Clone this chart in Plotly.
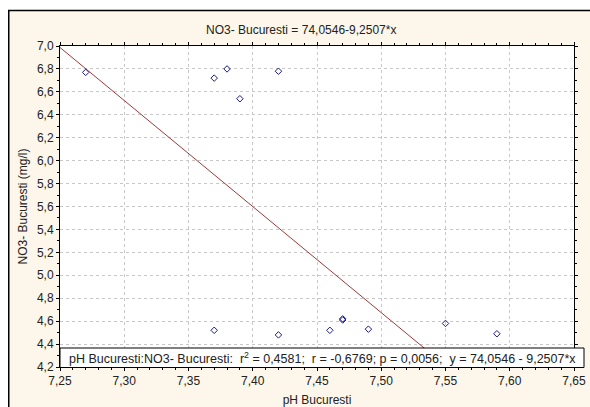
import plotly.graph_objects as go

ph = [7.27, 7.37, 7.38, 7.39, 7.42, 7.37, 7.42, 7.46, 7.47, 7.47, 7.49, 7.55, 7.59]
no3 = [6.77, 6.72, 6.80, 6.54, 6.78, 4.52, 4.48, 4.52, 4.61, 4.62, 4.53, 4.58, 4.49]
intercept = 74.0546
slope = -9.2507
line_x = [7.25, 7.60]
line_y = [intercept + slope * x for x in line_x]

title = "NO3- Bucuresti = 74,0546-9,2507*x"
xlabel = "pH Bucuresti"
ylabel = "NO3- Bucuresti (mg/l)"
stats = "pH Bucuresti:NO3- Bucuresti:  r<sup>2</sup> = 0,4581;  r = -0,6769; p = 0,0056;  y = 74,0546 - 9,2507*x"

W, H = 590, 407
L, R, T, B = 60, 574, 46, 367

def px(x):
    return (x - L) / (R - L)

def py(y):
    return (B - y) / (B - T)

fig = go.Figure()
fig.add_trace(go.Scatter(x=line_x, y=line_y, mode="lines",
                         line=dict(color="#a0393a", width=1), hoverinfo="skip"))
fig.add_trace(go.Scatter(x=ph, y=no3, mode="markers",
                         marker=dict(symbol="diamond-open", size=5, color="#1a1a8c",
                                     line=dict(width=1, color="#1a1a8c"))))

font = dict(family="Liberation Sans, Arial, sans-serif", size=12, color="#222222")

axis_common = dict(showline=True, linecolor="black", linewidth=1, mirror="ticks",
                   ticks="outside", ticklen=3, tickcolor="black", automargin=False,
                   showgrid=True, gridcolor="#c8c8c8", griddash="dot", gridwidth=1,
                   zeroline=False, tickfont=font)

fig.update_xaxes(range=[7.25, 7.65], dtick=0.05, tickformat=".2f",
                 minor=dict(dtick=0.01, ticks="outside", ticklen=2, tickcolor="black", showgrid=False),
                 title=dict(text=xlabel, font=font, standoff=8), **axis_common)
fig.update_yaxes(range=[4.2, 7.0], dtick=0.2, tickformat=".1f",
                 minor=dict(dtick=0.1, ticks="outside", ticklen=2, tickcolor="black", showgrid=False),
                 title=dict(text=ylabel, font=font, standoff=6), **axis_common)

shapes = [
    dict(type="rect", xref="paper", yref="paper", x0=px(-5), x1=px(W + 5), y0=py(-5), y1=py(10),
         fillcolor="white", line=dict(width=0), layer="above"),
    dict(type="rect", xref="paper", yref="paper", x0=px(-5), x1=px(8), y0=py(-5), y1=py(H + 5),
         fillcolor="white", line=dict(width=0), layer="above"),
    dict(type="line", xref="paper", yref="paper", x0=px(8), x1=px(W + 5), y0=py(10.5), y1=py(10.5),
         line=dict(color="black", width=1.5), layer="above"),
    dict(type="line", xref="paper", yref="paper", x0=px(8.75), x1=px(8.75), y0=py(10), y1=py(H + 5),
         line=dict(color="black", width=1.5), layer="above"),
    dict(type="rect", xref="paper", yref="paper", x0=px(60), x1=px(584), y0=py(367.5), y1=py(348),
         fillcolor="white", line=dict(color="black", width=1), layer="above"),
]

annotations = [
    dict(text=title, xref="paper", yref="paper", x=px(301), y=py(30), showarrow=False,
         xanchor="center", yanchor="middle", font=font),
    dict(text=stats, xref="paper", yref="paper", x=px(67), y=py(358), showarrow=False,
         xanchor="left", yanchor="middle", font=dict(family=font["family"], size=12.5, color="#222222")),
]

fig.update_layout(width=W, height=H, autosize=False,
                  margin=dict(l=L, r=W - R, t=T, b=H - B),
                  paper_bgcolor="#fcf7ea", plot_bgcolor="white", showlegend=False,
                  separators=",.", shapes=shapes, annotations=annotations, font=font)

fig.write_html("out.html", config={"displayModeBar": False, "responsive": False},
               post_script="document.body.style.margin='0';document.body.style.overflow='hidden';")
